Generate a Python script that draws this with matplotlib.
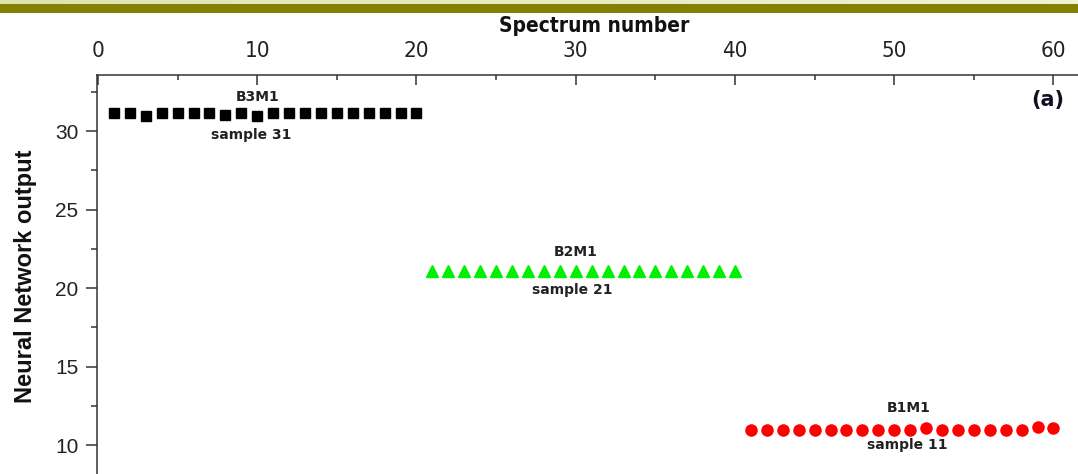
import matplotlib
matplotlib.use("Agg")
import matplotlib.pyplot as plt
from matplotlib import font_manager
from matplotlib.font_manager import FontProperties
from matplotlib.ticker import MultipleLocator
from matplotlib.colors import LinearSegmentedColormap
import numpy as np

# Spectrum numbers and network outputs for the three samples
spec_b3m1 = list(range(1, 21))
out_b3m1 = [31.12, 31.12, 30.97, 31.12, 31.12, 31.12, 31.12, 31.03, 31.12, 30.97,
            31.12, 31.12, 31.12, 31.12, 31.12, 31.12, 31.12, 31.12, 31.12, 31.12]

spec_b2m1 = list(range(21, 41))
out_b2m1 = [21.10] * 20

spec_b1m1 = list(range(41, 61))
out_b1m1 = [10.96, 10.96, 10.96, 10.96, 10.96, 10.96, 10.96, 10.96, 10.96, 10.96,
            10.96, 11.06, 10.96, 10.96, 10.96, 10.96, 10.96, 10.96, 11.17, 11.06]

x_ticks = [0, 10, 20, 30, 40, 50, 60]
y_ticks = [10, 15, 20, 25, 30]


def narrow_font(bold=False):
    """Pick a condensed sans face if one is installed, else a plain sans."""
    cond = ("condensed", "semi-condensed", "extra-condensed", "ultra-condensed")
    wanted = "bold" if bold else "normal"
    cands = []
    for f in font_manager.fontManager.ttflist:
        nm = f.name.lower()
        if ("narrow" in nm or "condensed" in nm or f.stretch in cond) and f.style == "normal":
            w = f.weight if isinstance(f.weight, int) else (700 if f.weight == "bold" else 400)
            if (w >= 600) == bold:
                cands.append(f)
    cands.sort(key=lambda f: (0 if "liberation" in f.name.lower() else
                              1 if "dejavu" in f.name.lower() else 2))
    if cands:
        return FontProperties(fname=cands[0].fname), True
    return FontProperties(family="Liberation Sans", weight=wanted), False


tick_fp, tick_cond = narrow_font(False)
lab_fp, lab_cond = narrow_font(True)

W, H = 1078, 474
fig = plt.figure(figsize=(W / 100, H / 100), dpi=100)
fig.patch.set_facecolor("white")

# header band: pale gradient strip over an olive bar
band = fig.add_axes([0, 1 - 4.5 / H, 1, 4.5 / H])
grad = np.linspace(0, 1, 256).reshape(1, -1)
cm = LinearSegmentedColormap.from_list("pale", ["#dde4b0", "#eef2d6"])
band.imshow(grad, aspect="auto", cmap=cm, extent=[0, 1, 0, 1])
band.set_axis_off()
bar = fig.add_axes([0, 1 - 12.5 / H, 1, 8 / H])
bar.set_facecolor("#838200")
bar.set_xticks([]); bar.set_yticks([])
for s in bar.spines.values():
    s.set_visible(False)

# main axes (extends past the right and bottom edges)
left_px, right_px, top_px, bot_px = 96.5, 1110, 75, 510
ax = fig.add_axes([left_px / W, (H - bot_px) / H,
                   (right_px - left_px) / W, (bot_px - top_px) / H])
ax.set_xlim(-0.094, 63.55)
ax.set_ylim(5.86, 33.567)

ax.plot(spec_b3m1, out_b3m1, ls="none", marker="s", ms=6.5, color="black")
ax.plot(spec_b2m1, out_b2m1, ls="none", marker="^", ms=9, color="#00ee00")
ax.plot(spec_b1m1, out_b1m1, ls="none", marker="o", ms=8, color="#ff0000")

for s in ax.spines.values():
    s.set_linewidth(1.1)
    s.set_color("#333333")

ax.xaxis.tick_top()
ax.xaxis.set_label_position("top")
ax.set_xticks(x_ticks)
ax.xaxis.set_minor_locator(MultipleLocator(5))
ax.set_yticks(y_ticks)
ax.yaxis.set_minor_locator(MultipleLocator(2.5))
ax.tick_params(axis="x", which="major", direction="in", length=7, width=1.1,
               pad=10, colors="#333333", labelcolor="#222222")
ax.tick_params(axis="x", which="minor", direction="in", length=3.5, width=1.1,
               colors="#333333")
ax.tick_params(axis="y", which="major", direction="out", length=8, width=1.1,
               pad=5, labelsize=15, colors="#333333", labelcolor="#222222")
ax.tick_params(axis="y", which="minor", direction="out", length=4, width=1.1,
               colors="#333333")
tick_fp.set_size(16 if tick_cond else 15)
for lab in ax.get_xticklabels():
    lab.set_fontproperties(tick_fp)
for lab in ax.get_yticklabels():
    lab.set_fontfamily("Liberation Sans")

lab_fp.set_size(15 if lab_cond else 15.5)
ax.set_xlabel("Spectrum number", fontproperties=lab_fp, color="#111111")
ax.xaxis.set_label_coords(0.491, 1.1124)
ax.xaxis.label.set_va("center")

ax.set_ylabel("Neural Network output", fontsize=17, fontweight="bold",
              fontfamily="Liberation Sans", color="#111111")
ax.yaxis.set_label_coords(-0.0705, 0.538)
ax.yaxis.label.set_va("center")

ann = dict(fontsize=10, fontweight="bold", fontfamily="DejaVu Sans",
           color="#222222", ha="center", va="center")
ax.text(10.0, 32.17, "B3M1", **ann)
ax.text(9.6, 29.75, "sample 31", **ann)
ax.text(30.0, 22.29, "B2M1", **ann)
ax.text(29.8, 19.87, "sample 21", **ann)
ax.text(50.9, 12.33, "B1M1", **ann)
ax.text(50.8, 10.0, "sample 11", **ann)

ax.text(1048, H - 100, "(a)", transform=None, fontsize=15, fontweight="bold",
        fontfamily="DejaVu Sans", color="#111122", ha="center", va="center")

fig.savefig("out.png", dpi=100)
